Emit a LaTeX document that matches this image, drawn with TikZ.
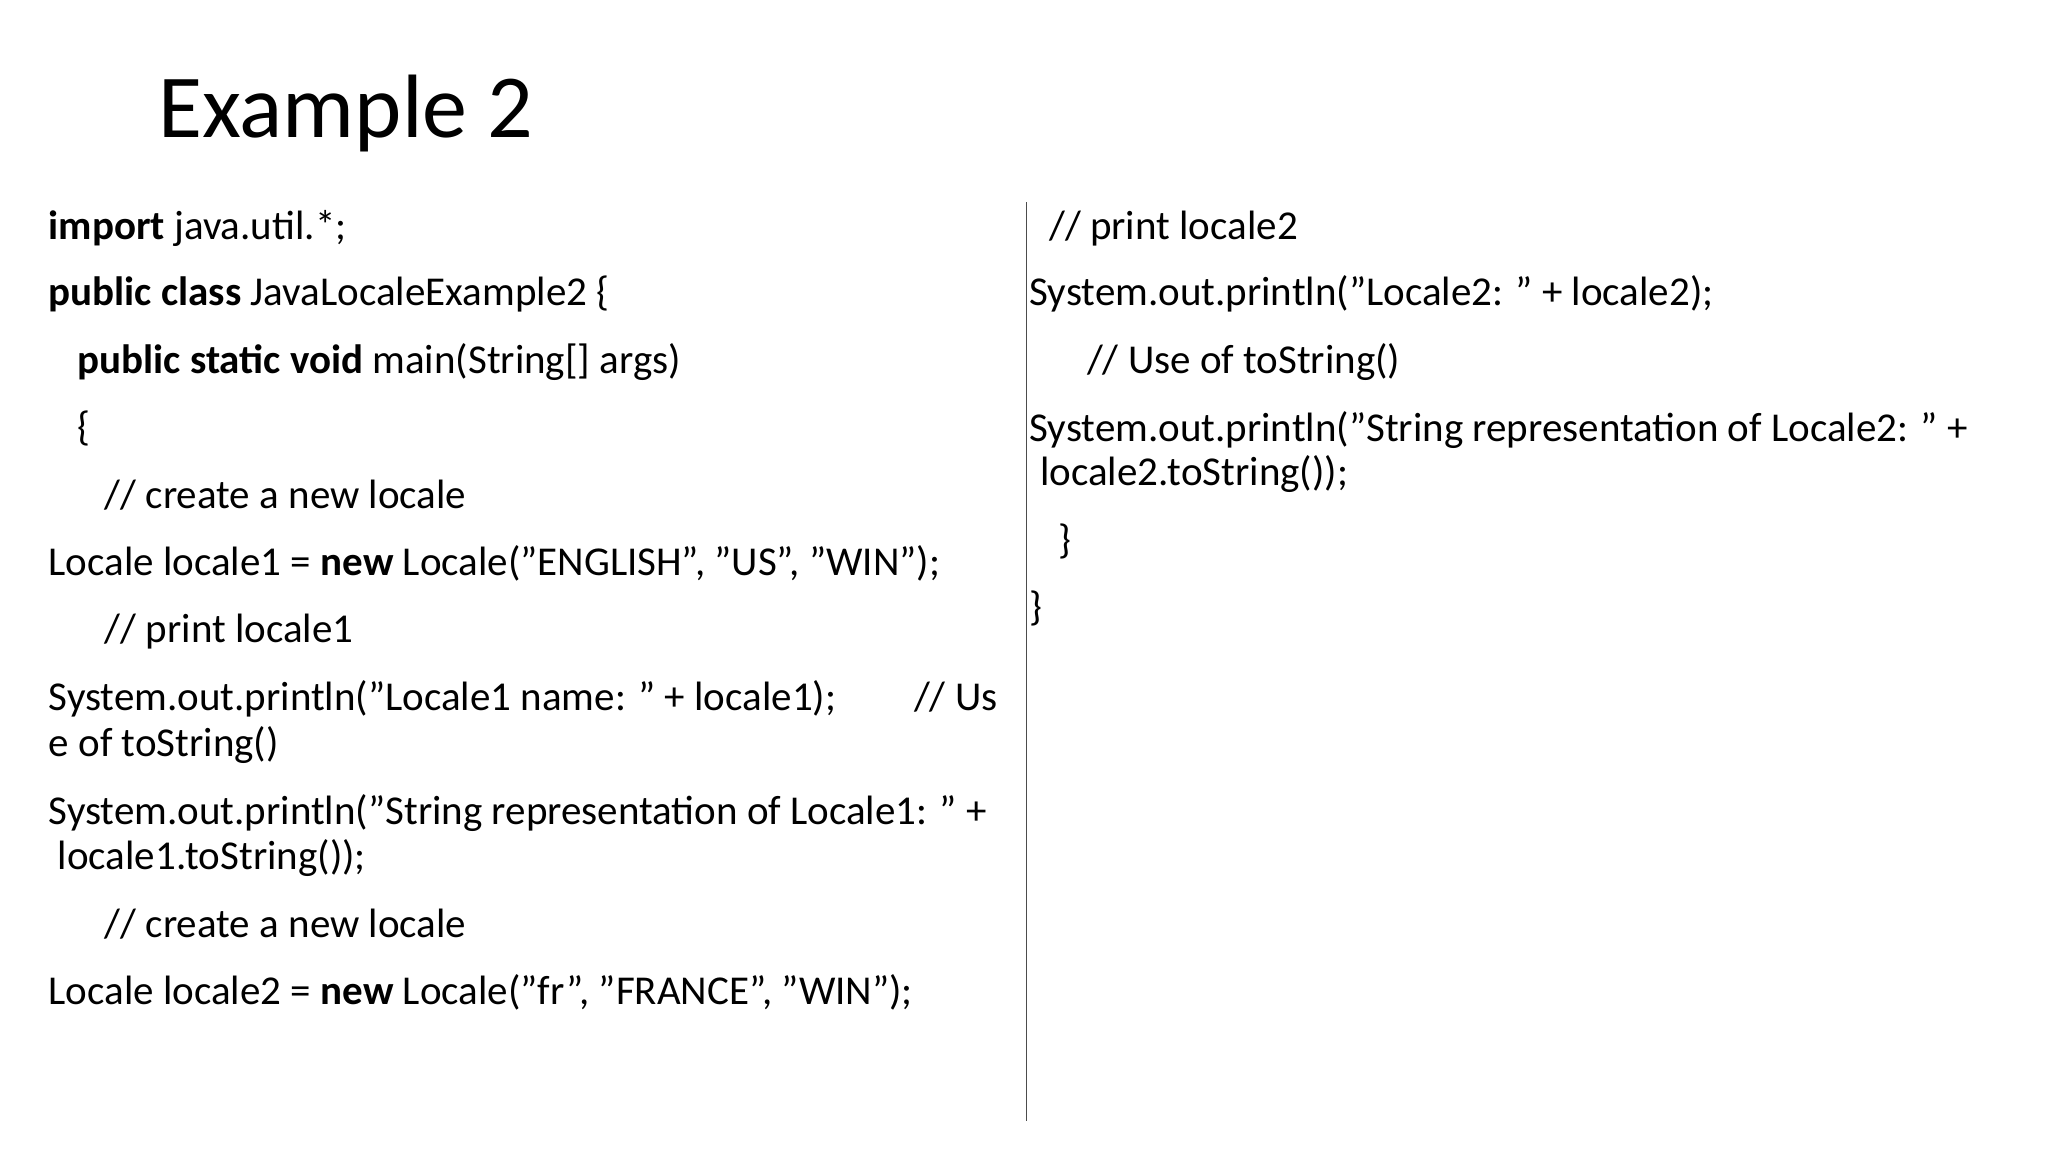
\documentclass[tikz,border=0pt]{standalone}
\usepackage{fontspec}
\setmainfont{Carlito}
\begin{document}
\begin{tikzpicture}[x=0.653pt,y=-0.653pt,
  code/.style={anchor=base west,inner sep=0pt,font=\fontsize{20.5}{24}\selectfont}]
\useasboundingbox (0,0) rectangle (1568,882);
\node[anchor=base west,inner sep=0pt,font=\fontsize{45}{50}\selectfont] (title) at (121,105) {Example 2};
\node[code] (l1) at (37,183) {\textbf{import} java.util.*;};
\node[code] (l2) at (37,234) {\textbf{public class} JavaLocaleExample2 \{};
\node[code] (l3) at (59,286) {\textbf{public static void} main(String[] args)};
\node[code] (l4) at (59,337) {\{};
\node[code] (l5) at (80,389) {// create a new locale};
\node[code] (l6) at (37,441) {Locale locale1 = \textbf{new} Locale("ENGLISH", "US", "WIN");};
\node[code] (l7) at (80,492) {// print locale1};
\node[code] (l8) at (37,544) {System.out.println("Locale1 name: " + locale1);\hspace{1.9em}// Us};
\node[code] (l8b) at (37,579) {e of toString()};
\node[code] (l9) at (37,631) {System.out.println("String representation of Locale1: " +};
\node[code] (l9b) at (44,666) {locale1.toString());};
\node[code] (l10) at (80,718) {// create a new locale};
\node[code] (l11) at (37,769) {Locale locale2 = \textbf{new} Locale("fr", "FRANCE", "WIN");};
\node[code] (r1) at (803,183) {// print locale2};
\node[code] (r2) at (788,234) {System.out.println("Locale2: " + locale2);};
\node[code] (r3) at (832,286) {// Use of toString()};
\node[code] (r4) at (788,338) {System.out.println("String representation of Locale2: " +};
\node[code] (r4b) at (796,372) {locale2.toString());};
\node[code] (r5) at (810,424) {\}};
\node[code] (r6) at (788,475) {\}};
\coordinate (vt) at (786,155);
\coordinate (vb) at (786,858);
\draw[line width=0.8pt,black!70] (vt) -- (vb);
\end{tikzpicture}
\end{document}
